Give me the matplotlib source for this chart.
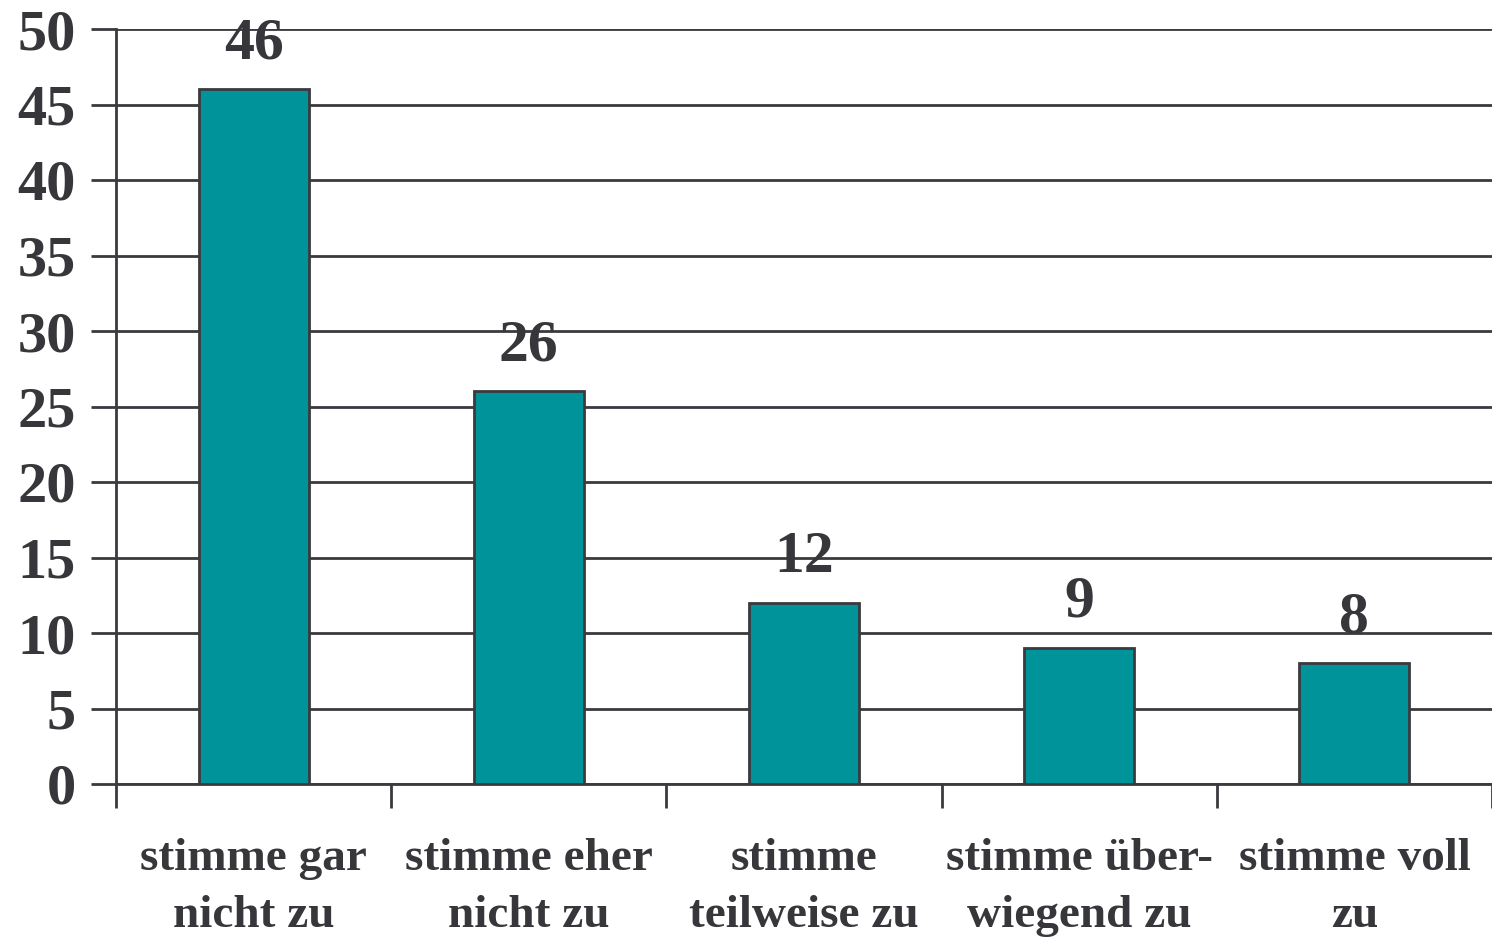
import matplotlib
matplotlib.use("Agg")
import matplotlib.pyplot as plt
import numpy as np

categories = ["stimme gar\nnicht zu", "stimme eher\nnicht zu", "stimme\nteilweise zu",
              "stimme über-\nwiegend zu", "stimme voll\nzu"]
values = [46, 26, 12, 9, 8]
yticks = [0, 5, 10, 15, 20, 25, 30, 35, 40, 45, 50]

W, H = 1492, 939
dpi = 100
fig = plt.figure(figsize=(W / dpi, H / dpi), dpi=dpi)
plt.rcParams['font.family'] = ['Liberation Serif', 'DejaVu Serif']

left, right, top, bottom = 116, 1492, 29, 784
ax = fig.add_axes([left / W, 1 - bottom / H, (right - left) / W, (bottom - top) / H])

col_txt = "#36363b"
col_line = "#3a3a3f"
bar_col = "#00949a"

unit = 277.5
x = np.arange(len(values))
ax.bar(x, values, width=0.4, color=bar_col, edgecolor=col_line, linewidth=2, zorder=3)
ax.set_xlim(-0.5, -0.5 + (right - left) / unit)
ax.set_ylim(0, 50)

ax.set_yticks(yticks)
ax.set_yticklabels([str(v) for v in yticks], fontsize=42, fontweight='bold', color=col_txt)
ax.yaxis.grid(True, color=col_line, linewidth=2, zorder=0)
ax.tick_params(axis='y', length=18, width=2, color=col_line, pad=11)

# boundary ticks for categories
ax.set_xticks(np.arange(len(values) + 1) - 0.5)
ax.set_xticklabels([])
ax.tick_params(axis='x', length=17, width=2, color=col_line)
for xi, lab in zip(x, categories):
    ax.text(xi, -3.6, lab, ha='center', va='top', fontsize=34, fontweight='bold',
            color=col_txt, linespacing=1.45, clip_on=False)

for xi, v in zip(x, values):
    ax.text(xi, v + 1.2, str(v), ha='center', va='bottom', fontsize=43, fontweight='bold',
            color=col_txt, zorder=4)

for s in ['top', 'right']:
    ax.spines[s].set_visible(False)
ax.spines['left'].set_color(col_line)
ax.spines['left'].set_linewidth(2)
ax.spines['bottom'].set_color(col_line)
ax.spines['bottom'].set_linewidth(2)
ax.set_axisbelow(True)

fig.savefig("out.png", dpi=dpi)
